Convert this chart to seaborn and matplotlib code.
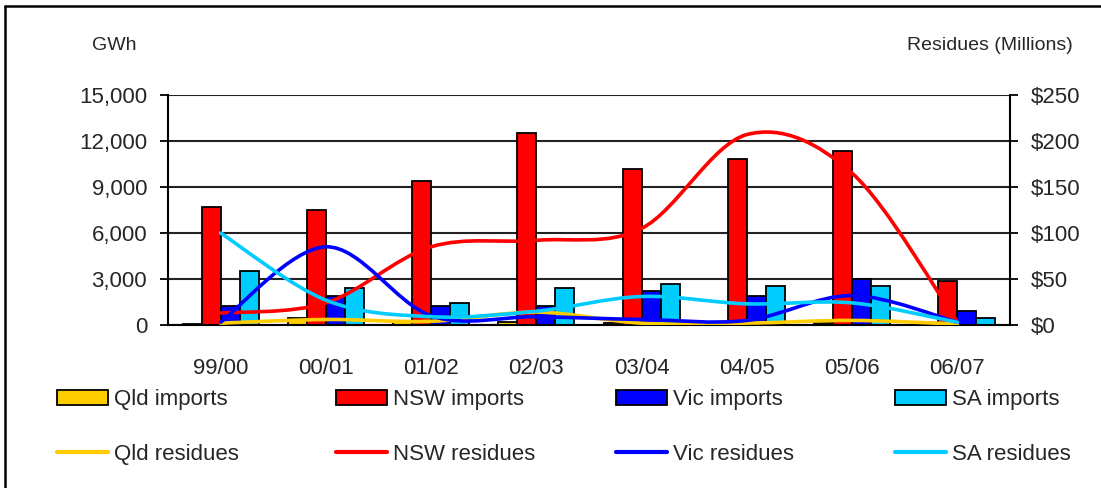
import numpy as np
import pandas as pd
import matplotlib
matplotlib.use('Agg')
import matplotlib.pyplot as plt
import seaborn as sns
from matplotlib import font_manager
from matplotlib.path import Path
from matplotlib.patches import PathPatch, Patch
from matplotlib.lines import Line2D
from matplotlib.ticker import FuncFormatter, MultipleLocator

# Chart data
seasons = ['99/00', '00/01', '01/02', '02/03', '03/04', '04/05', '05/06', '06/07']
regions = ['Qld', 'NSW', 'Vic', 'SA']

# imports in GWh (left axis)
qld_imports = [40, 480, 280, 200, 150, 80, 150, 60]
nsw_imports = [7700, 7500, 9400, 12500, 10200, 10850, 11350, 2900]
vic_imports = [1240, 1900, 1220, 1240, 2200, 1890, 2980, 930]
sa_imports = [3520, 2390, 1420, 2390, 2690, 2540, 2540, 480]

# residues in $ millions (right axis)
qld_residues = [2, 6, 4, 14, 2, 2, 5, 1]
nsw_residues = [13, 24, 85, 92, 105, 207, 165, 3]
vic_residues = [3, 85, 10, 9, 6, 5, 32, 3]
sa_residues = [100, 27, 9, 15, 31, 23, 24, 3]

colors = {'Qld': '#FFCC00', 'NSW': '#FF0000', 'Vic': '#0000FF', 'SA': '#00CCFF'}

sns.set_style('white')
if any('Liberation Sans Narrow' in f.name for f in font_manager.fontManager.ttflist):
    plt.rcParams['font.family'] = ['Liberation Sans Narrow', 'DejaVu Sans']
    fs_tick, fs_title, fs_leg = 19, 17, 19.5
else:
    plt.rcParams['font.family'] = ['Liberation Sans', 'DejaVu Sans']
    fs_tick, fs_title, fs_leg = 16, 14, 16

W, H = 1101, 488
fig = plt.figure(figsize=(W / 100, H / 100), dpi=100)
ax = fig.add_axes([168 / W, 1 - 325 / H, (1010 - 168) / W, (325 - 95) / H])

# long-form table for seaborn
imports = {'Qld': qld_imports, 'NSW': nsw_imports, 'Vic': vic_imports, 'SA': sa_imports}
df = pd.DataFrame([
    {'season': s, 'region': r, 'gwh': imports[r][i]}
    for r in regions for i, s in enumerate(seasons)
])

sns.barplot(data=df, x='season', y='gwh', hue='region', order=seasons,
            hue_order=regions, palette=colors, width=0.72, edgecolor='black',
            linewidth=1.3, saturation=1, legend=False, ax=ax)

ax.set_xlim(-0.5, len(seasons) - 0.5)
ax.set_ylim(0, 15000)
ax.yaxis.set_major_locator(MultipleLocator(3000))
ax.yaxis.set_major_formatter(FuncFormatter(lambda v, p: f'{int(v):,}'))
ax.set_axisbelow(True)
ax.grid(axis='y', color='#222222', linewidth=1.5)
ax.set_xlabel('')
ax.set_ylabel('')
ax.set_xticks(range(len(seasons)))
ax.set_xticklabels(seasons)
ax.set_xticks(np.arange(-0.5, len(seasons)), minor=True)
ax.tick_params(axis='x', which='major', length=0, pad=24, labelsize=fs_tick)
ax.tick_params(axis='x', which='minor', length=7, width=1.3, color='black')
ax.tick_params(axis='y', length=6, width=1.3, color='black', pad=9, labelsize=fs_tick, left=True)
for side in ['left', 'bottom']:
    ax.spines[side].set_color('black')
    ax.spines[side].set_linewidth(1.5)
ax.spines['top'].set_visible(False)
ax.spines['right'].set_visible(False)

# residues on the right axis, drawn as smoothed curves
ax2 = ax.twinx()
ax2.set_ylim(0, 250)
ax2.yaxis.set_major_locator(MultipleLocator(50))
ax2.yaxis.set_major_formatter(FuncFormatter(lambda v, p: f'${int(v)}'))
ax2.tick_params(axis='y', length=6, width=1.3, color='black', pad=9, labelsize=fs_tick, right=True)
ax2.spines['right'].set_color('black')
ax2.spines['right'].set_linewidth(1.5)
for side in ['left', 'top', 'bottom']:
    ax2.spines[side].set_visible(False)


def smooth_path(values):
    # Bezier segments with Catmull-Rom style control points (like Excel's smoothed line)
    pts = np.column_stack([np.arange(len(values)), values]).astype(float)
    n = len(pts)
    verts = [pts[0]]
    codes = [Path.MOVETO]
    for i in range(n - 1):
        p_prev = pts[max(i - 1, 0)]
        p_next2 = pts[min(i + 2, n - 1)]
        c1 = pts[i] + (pts[i + 1] - p_prev) / 6
        c2 = pts[i + 1] - (p_next2 - pts[i]) / 6
        verts += [c1, c2, pts[i + 1]]
        codes += [Path.CURVE4] * 3
    return Path(verts, codes)


residues = {'Qld': qld_residues, 'NSW': nsw_residues, 'Vic': vic_residues, 'SA': sa_residues}
for r in regions:
    ax2.add_patch(PathPatch(smooth_path(residues[r]), fill=False,
                            edgecolor=colors[r], linewidth=2.6, capstyle='round',
                            joinstyle='round'))

# axis titles
fig.text(114 / W, 1 - 46 / H, 'GWh', ha='center', va='center', fontsize=fs_title)
fig.text(990 / W, 1 - 46 / H, 'Residues (Millions)', ha='center', va='center', fontsize=fs_title)

# legend: one small legend per region column
col_x = [57, 336, 616, 895]
for r, x in zip(regions, col_x):
    handles = [Patch(facecolor=colors[r], edgecolor='black', linewidth=1.3),
               Line2D([], [], color=colors[r], linewidth=3)]
    fig.legend(handles, [f'{r} imports', f'{r} residues'], loc='center left',
               bbox_to_anchor=(x / W, 1 - 427 / H), frameon=False, fontsize=fs_leg,
               borderpad=0, borderaxespad=0, handlelength=2.3, handleheight=0.7,
               handletextpad=0.27, labelspacing=1.5)

# outer frame (left and top edges)
fig.add_artist(Line2D([5 / W, 5 / W], [0, 1 - 6 / H], color='black', linewidth=1.8,
                      transform=fig.transFigure))
fig.add_artist(Line2D([5 / W, 1], [1 - 6 / H, 1 - 6 / H], color='black', linewidth=1.8,
                      transform=fig.transFigure))

fig.savefig('out.png', dpi=100, facecolor='white')
